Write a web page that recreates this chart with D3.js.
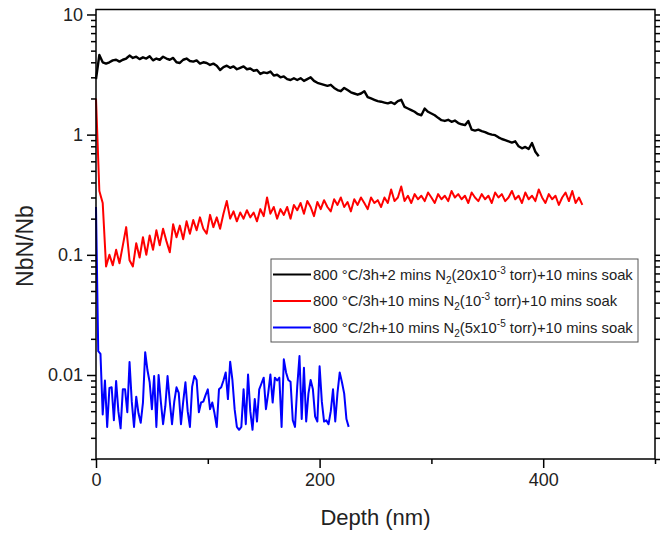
<!DOCTYPE html>
<html>
<head>
<meta charset="utf-8">
<script src="https://cdnjs.cloudflare.com/ajax/libs/d3/7.8.5/d3.min.js"></script>
<style>
  body { margin: 0; background: #fff; }
  text { font-family: "Liberation Sans", Arial, sans-serif; fill: #222; }
</style>
</head>
<body>
<div class="chart"></div>
<script>
// depth grid of each series (nm): start at 0, fixed step
var blackStep = 3, redStep = 3, blueStep = 2;

// 800 C/3h + 2 mins N2 (20x10^-3 torr)
var blackValues = [2.9, 4.6, 4.0, 3.9, 4.0, 4.15, 4.2, 4.05, 4.2, 4.3,
    4.55, 4.35, 4.45, 4.25, 4.4, 4.3, 4.5, 4.15, 4.3, 4.2,
    4.45, 4.3, 4.2, 4.35, 4.0, 3.95, 4.2, 4.3, 4.1, 4.05,
    4.15, 3.9, 4.0, 3.95, 3.8, 3.9, 3.75, 3.45, 3.65, 3.75,
    3.6, 3.7, 3.5, 3.6, 3.7, 3.5, 3.55, 3.4, 3.45, 3.2,
    3.3, 3.25, 3.35, 3.1, 3.15, 3.0, 3.05, 2.9, 2.85, 2.95,
    2.85, 2.95, 2.8, 2.9, 3.0, 2.8, 2.7, 2.65, 2.6, 2.55,
    2.6, 2.45, 2.35, 2.3, 2.45, 2.35, 2.25, 2.2, 2.15, 2.2,
    2.3, 2.05, 2.0, 1.95, 1.9, 1.88, 1.85, 1.82, 1.86, 1.8,
    1.9, 1.95, 1.7, 1.65, 1.6, 1.55, 1.48, 1.45, 1.65, 1.55,
    1.5, 1.45, 1.38, 1.32, 1.3, 1.33, 1.28, 1.31, 1.25, 1.22,
    1.2, 1.3, 1.1, 1.08, 1.1, 1.07, 1.05, 1.02, 1.0, 0.99,
    0.95, 0.92, 0.9, 0.88, 0.86, 0.88, 0.8, 0.77, 0.79, 0.76,
    0.85, 0.72, 0.66];

// 800 C/3h + 10 mins N2 (10^-3 torr)
var redValues = [2.0, 0.34, 0.27, 0.08, 0.1, 0.082, 0.11, 0.085, 0.12, 0.17,
    0.09, 0.08, 0.125, 0.095, 0.14, 0.1, 0.145, 0.11, 0.16, 0.12,
    0.165, 0.13, 0.105, 0.18, 0.14, 0.175, 0.135, 0.19, 0.15, 0.195,
    0.16, 0.205, 0.165, 0.15, 0.215, 0.17, 0.205, 0.165, 0.22, 0.28,
    0.2, 0.23, 0.19, 0.225, 0.2, 0.235, 0.205, 0.225, 0.19, 0.24,
    0.21, 0.3, 0.22, 0.25, 0.2, 0.24, 0.215, 0.25, 0.2, 0.26,
    0.235, 0.27, 0.22, 0.28, 0.25, 0.21, 0.275, 0.24, 0.285, 0.25,
    0.23, 0.29, 0.26, 0.3, 0.25, 0.275, 0.23, 0.29, 0.26, 0.3,
    0.27, 0.24, 0.3, 0.27, 0.285, 0.25, 0.3, 0.27, 0.35, 0.28,
    0.3, 0.37, 0.28, 0.31, 0.27, 0.32, 0.29, 0.31, 0.28, 0.33,
    0.3, 0.27, 0.32, 0.29, 0.31, 0.28, 0.34, 0.3, 0.32, 0.29,
    0.31, 0.27, 0.33, 0.3, 0.28, 0.32, 0.29, 0.31, 0.27, 0.33,
    0.3, 0.32, 0.28, 0.3, 0.34, 0.29, 0.31, 0.27, 0.33, 0.29,
    0.31, 0.28, 0.35, 0.3, 0.27, 0.32, 0.29, 0.31, 0.26, 0.3,
    0.33, 0.28, 0.34, 0.27, 0.3, 0.26];

// 800 C/2h + 10 mins N2 (5x10^-5 torr)
var blueValues = [0.25, 0.0158, 0.015, 0.0047, 0.009, 0.0037, 0.0078, 0.0079, 0.0042, 0.0089,
    0.005, 0.0036, 0.0076, 0.0076, 0.0049, 0.0128, 0.006, 0.0037, 0.0066, 0.0048,
    0.004, 0.0059, 0.0155, 0.011, 0.0087, 0.0052, 0.0098, 0.0037, 0.01, 0.006,
    0.0039, 0.0055, 0.0098, 0.006, 0.0039, 0.006, 0.0079, 0.0071, 0.0039, 0.006,
    0.0087, 0.005, 0.0037, 0.008, 0.0098, 0.0091, 0.0049, 0.0059, 0.006, 0.0068,
    0.0076, 0.0052, 0.0059, 0.0048, 0.0037, 0.0076, 0.0079, 0.009, 0.0105, 0.0063,
    0.0129, 0.0091, 0.0052, 0.0037, 0.0035, 0.0037, 0.0076, 0.0039, 0.0101, 0.005,
    0.0035, 0.0063, 0.0041, 0.0076, 0.0085, 0.0095, 0.0052, 0.007, 0.0101, 0.0059,
    0.0095, 0.009, 0.0095, 0.0037, 0.0135, 0.0105, 0.0091, 0.0088, 0.0042, 0.0037,
    0.008, 0.0144, 0.0043, 0.0115, 0.0041, 0.007, 0.0091, 0.0076, 0.0045, 0.0041,
    0.0118, 0.006, 0.0041, 0.0042, 0.0039, 0.005, 0.0076, 0.0041, 0.0071, 0.0105,
    0.0087, 0.007, 0.0043, 0.0037];

var xTicks = [0, 200, 400];
var xMinorTicks = [100, 300, 500];
var yTicks = [10, 1, 0.1, 0.01];
var yTickLabels = ["10", "1", "0.1", "0.01"];

var legendItems = [
    { color: "#000", pre: "800 °C/3h+2 mins N", sub: "2", mid: "(20x10", sup: "-3", post: " torr)+10 mins soak" },
    { color: "#ff0000", pre: "800 °C/3h+10 mins N", sub: "2", mid: "(10", sup: "-3", post: " torr)+10 mins soak" },
    { color: "#0000ff", pre: "800 °C/2h+10 mins N", sub: "2", mid: "(5x10", sup: "-5", post: " torr)+10 mins soak" }
];

var width = 660, height = 533;
var margin = { top: 9.5, right: 5, bottom: 74, left: 96 };

var x = d3.scaleLinear().domain([0, 500]).range([margin.left, width - margin.right]);
var y = d3.scaleLog().domain([0.002, 11]).range([height - margin.bottom, margin.top]);

// minor ticks 2..9 of each decade
var yMinorTicks = [];
[0.001, 0.01, 0.1, 1].forEach(function (dec) {
    for (var k = 2; k <= 9; k++) {
        var v = +(dec * k).toPrecision(3);
        if (v >= 0.002 && v <= 11) yMinorTicks.push(v);
    }
});

var svg = d3.select(".chart")
    .append("svg")
    .attr("width", width)
    .attr("height", height);

function toPoints(values, step) {
    return values.map((v, i) => ({ depth: i * step, value: v }));
}

var line = d3.line()
    .x(d => x(d.depth))
    .y(d => y(d.value));

var series = [
    { pts: toPoints(blackValues, blackStep), color: "#000", w: 2.4 },
    { pts: toPoints(redValues, redStep), color: "#ff0000", w: 2 },
    { pts: toPoints(blueValues, blueStep), color: "#0000ff", w: 2 }
];

svg.selectAll(".series")
    .data(series)
    .enter().append("path")
    .attr("class", "series")
    .attr("d", d => line(d.pts))
    .attr("fill", "none")
    .attr("stroke", d => d.color)
    .attr("stroke-width", d => d.w)
    .attr("stroke-linejoin", "round");

// frame
svg.append("rect")
    .attr("x", x(0))
    .attr("y", margin.top)
    .attr("width", x(500) - x(0))
    .attr("height", y(0.002) - margin.top)
    .attr("fill", "none")
    .attr("stroke", "#000")
    .attr("stroke-width", 1.5);

function styleAxis(g) {
    g.select(".domain").remove();
    g.selectAll("line").attr("stroke", "#000").attr("stroke-width", 1.5);
    g.selectAll("text")
        .style("font-family", '"Liberation Sans", Arial, sans-serif')
        .style("font-size", "18px")
        .attr("fill", "#222");
}

// x axis
svg.append("g")
    .attr("transform", "translate(0," + y(0.002) + ")")
    .call(d3.axisBottom(x).tickValues(xTicks).tickSize(9).tickPadding(5).tickFormat(d3.format("d")))
    .call(styleAxis);
svg.append("g")
    .attr("transform", "translate(0," + y(0.002) + ")")
    .call(d3.axisBottom(x).tickValues(xMinorTicks).tickSize(5).tickFormat(""))
    .call(styleAxis);

// y axis, left
svg.append("g")
    .attr("transform", "translate(" + x(0) + ",0)")
    .call(d3.axisLeft(y).tickValues(yTicks).tickSize(9).tickPadding(4)
        .tickFormat((d, i) => yTickLabels[i]))
    .call(styleAxis);
svg.append("g")
    .attr("transform", "translate(" + x(0) + ",0)")
    .call(d3.axisLeft(y).tickValues(yMinorTicks).tickSize(5).tickFormat(""))
    .call(styleAxis);

// y axis, right (mirror)
svg.append("g")
    .attr("transform", "translate(" + x(500) + ",0)")
    .call(d3.axisRight(y).tickValues(yTicks).tickSize(9).tickFormat(""))
    .call(styleAxis);
svg.append("g")
    .attr("transform", "translate(" + x(500) + ",0)")
    .call(d3.axisRight(y).tickValues(yMinorTicks).tickSize(5).tickFormat(""))
    .call(styleAxis);

// axis titles
svg.append("text")
    .attr("x", (x(0) + x(500)) / 2)
    .attr("y", 525)
    .attr("text-anchor", "middle")
    .attr("font-size", "22px")
    .text("Depth (nm)");

svg.append("text")
    .attr("transform", "translate(33,246) rotate(-90)")
    .attr("text-anchor", "middle")
    .attr("font-size", "23px")
    .text("NbN/Nb");

// legend
var lg = svg.append("g").attr("transform", "translate(271,259)");
lg.append("rect")
    .attr("width", 367)
    .attr("height", 83)
    .attr("fill", "#fff")
    .attr("stroke", "#555")
    .attr("stroke-width", 1);

var rows = lg.selectAll(".row")
    .data(legendItems)
    .enter().append("g")
    .attr("class", "row")
    .attr("transform", (d, i) => "translate(0," + (15.5 + i * 26.5) + ")");

rows.append("line")
    .attr("x1", 2).attr("x2", 40)
    .attr("stroke", d => d.color)
    .attr("stroke-width", 2);

var t = rows.append("text")
    .attr("x", 42)
    .attr("y", 5)
    .attr("font-size", "14.8px");
t.append("tspan").text(d => d.pre);
t.append("tspan").attr("dy", 4).attr("font-size", "10px").text(d => d.sub);
t.append("tspan").attr("dy", -4).text(d => d.mid);
t.append("tspan").attr("dy", -6).attr("font-size", "10px").text(d => d.sup);
t.append("tspan").attr("dy", 6).text(d => d.post);
</script>
</body>
</html>
